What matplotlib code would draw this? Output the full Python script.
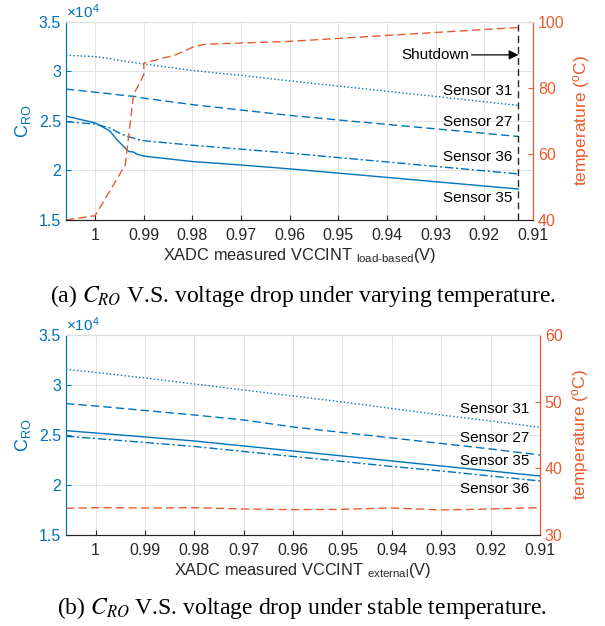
import matplotlib.pyplot as plt
from matplotlib.ticker import FuncFormatter

plt.rcParams['font.family'] = ['Liberation Sans', 'DejaVu Sans']
plt.rcParams['mathtext.fontset'] = 'stix'
plt.rcParams['mathtext.default'] = 'regular'

blue = "#0072BD"
red = "#EC5A2C"
dark = "#262626"

# -----------------------------
# (a) varying temperature
# -----------------------------
x_a = [1.006, 1.0, 0.997, 0.9955, 0.9935, 0.993, 0.992, 0.9915, 0.99,
       0.98, 0.97, 0.96, 0.95, 0.94, 0.93, 0.92, 0.913]
s31_a = [31630, 31500, 31300, 31150, 31000, 30950, 30900, 30850, 30750,
         30100, 29600, 29050, 28520, 28000, 27470, 26940, 26570]
s27_a = [28220, 27900, 27750, 27650, 27550, 27520, 27480, 27450, 27300,
         26650, 26100, 25560, 25100, 24650, 24200, 23750, 23430]
s36_a = [24920, 24680, 24300, 23900, 23450, 23400, 23250, 23150, 23000,
         22550, 22150, 21750, 21300, 20860, 20410, 19960, 19650]
s35_a = [25490, 24800, 24000, 23100, 22100, 21900, 21850, 21650, 21450,
         20900, 20550, 20160, 19730, 19300, 18860, 18430, 18130]

tx_a = [1.006, 1.0, 0.9938, 0.9921, 0.99, 0.99, 0.9835, 0.9797, 0.9776,
        0.97, 0.96, 0.95, 0.94, 0.93, 0.92, 0.913]
temp_a = [40, 41.3, 56.7, 78, 84, 87.5, 90, 92.5, 93.2,
          93.6, 94.1, 95.0, 95.9, 96.8, 97.7, 98.3]
shutdown_v = 0.913

# -----------------------------
# (b) stable temperature
# -----------------------------
x_b = [1.006, 1.0, 0.99, 0.98, 0.97, 0.96, 0.95, 0.94, 0.93, 0.92, 0.91]
s31_b = [31570, 31250, 30700, 30100, 29500, 28900, 28300, 27650, 27000, 26400, 25770]
s27_b = [28130, 27900, 27450, 27000, 26500, 25800, 25250, 24700, 24150, 23600, 23000]
s35_b = [25430, 25200, 24800, 24400, 23900, 23400, 22900, 22400, 21900, 21400, 20900]
s36_b = [24870, 24650, 24250, 23850, 23350, 22850, 22350, 21850, 21400, 20900, 20400]
temp_b = [34.0, 34.1, 34.05, 34.1, 33.9, 33.8, 33.85, 34.05, 33.75, 33.9, 34.1]

xticks = [1, 0.99, 0.98, 0.97, 0.96, 0.95, 0.94, 0.93, 0.92, 0.91]
yticks = [15000, 20000, 25000, 30000, 35000]

fig = plt.figure(figsize=(6.05, 6.26), dpi=100)
ax1 = fig.add_axes([0.109, 0.6486, 0.772, 0.3164])
ax2 = fig.add_axes([0.109, 0.1454, 0.7835, 0.3195])


def style(ax, axr, tlim, tticks, xlab):
    ax.set_xlim(1.006, 0.91)
    ax.set_ylim(15000, 35000)
    ax.set_xticks(xticks)
    ax.set_xticklabels([f"{v:g}" for v in xticks])
    ax.set_yticks(yticks)
    ax.yaxis.set_major_formatter(FuncFormatter(lambda v, p: f"{v / 1e4:g}"))
    ax.grid(True, color="#e3e3e3", linewidth=0.7)
    ax.set_axisbelow(True)
    axr.set_ylim(*tlim)
    axr.set_yticks(tticks)
    ax.tick_params(axis="x", direction="in", length=3.5, colors=dark,
                   labelsize=11.5, pad=6)
    ax.tick_params(axis="y", direction="in", length=3.5, colors=blue,
                   labelsize=11.5)
    axr.tick_params(axis="y", direction="in", length=3.5, colors=red,
                    labelsize=11.5)
    for a in (ax, axr):
        a.spines["top"].set_color("#dddddd")
        a.spines["bottom"].set_color(dark)
        a.spines["left"].set_color(blue)
        a.spines["right"].set_color(red)
    ax.set_ylabel(r"C$_{RO}$", color=blue, fontsize=13)
    ax.yaxis.set_label_coords(-0.07, 0.5)
    axr.set_ylabel(r"temperature ($^{o}$C)", color=red, fontsize=12.5, labelpad=5)
    ax.set_xlabel(xlab, color=dark, fontsize=11.8, labelpad=2)
    ax.text(0.0, 1.005, r"$\times$10$^{4}$", transform=ax.transAxes,
            color=blue, fontsize=11, ha="left", va="bottom")


# plot (a)
ax1r = ax1.twinx()
ax1r.set_zorder(ax1.get_zorder() + 1)
ax1.plot(x_a, s31_a, color=blue, linestyle=":", linewidth=1)
ax1.plot(x_a, s27_a, color=blue, linestyle=(0, (6, 3)), linewidth=1)
ax1.plot(x_a, s36_a, color=blue, linestyle=(0, (6, 2, 1.5, 2)), linewidth=1)
ax1.plot(x_a, s35_a, color=blue, linestyle="-", linewidth=1)
ax1r.plot(tx_a, temp_a, color=red, linestyle=(0, (6, 3)), linewidth=1)
ax1.axvline(shutdown_v, color=dark, linestyle=(0, (5, 3)), linewidth=1)
style(ax1, ax1r, (40, 100), [40, 60, 80, 100],
      r"XADC measured VCCINT $_{load\text{-}based}$(V)")

ax1.annotate("Shutdown", xy=(shutdown_v, 31670), xytext=(0.9232, 31670),
             ha="right", va="center", fontsize=11, color="black",
             arrowprops=dict(arrowstyle="-|>", color="black", lw=0.9,
                             mutation_scale=14, shrinkA=0, shrinkB=0))
for lab, yv in [("Sensor 31", 28060), ("Sensor 27", 24900),
                ("Sensor 36", 21330), ("Sensor 35", 17220)]:
    ax1.text(0.9143, yv, lab, ha="right", va="center", fontsize=11,
             color="black")

# plot (b)
ax2r = ax2.twinx()
ax2r.set_zorder(ax2.get_zorder() + 1)
ax2.plot(x_b, s31_b, color=blue, linestyle=":", linewidth=1)
ax2.plot(x_b, s27_b, color=blue, linestyle=(0, (6, 3)), linewidth=1)
ax2.plot(x_b, s35_b, color=blue, linestyle="-", linewidth=1)
ax2.plot(x_b, s36_b, color=blue, linestyle=(0, (6, 2, 1.5, 2)), linewidth=1)
ax2r.plot(x_b, temp_b, color=red, linestyle=(0, (6, 3)), linewidth=1)
style(ax2, ax2r, (30, 60), [30, 40, 50, 60],
      r"XADC measured VCCINT $_{external}$(V)")
for lab, yv in [("Sensor 31", 27570), ("Sensor 27", 24700),
                ("Sensor 35", 22430), ("Sensor 36", 19600)]:
    ax2.text(0.9122, yv, lab, ha="right", va="center", fontsize=11,
             color="black")

# captions
fig.text(0.5, 0.527, r"(a) $\mathit{C}_{\mathit{RO}}$ V.S. voltage drop under varying temperature.",
         ha="center", va="center", fontsize=17, family=["Liberation Serif"])
fig.text(0.5, 0.029, r"(b) $\mathit{C}_{\mathit{RO}}$ V.S. voltage drop under stable temperature.",
         ha="center", va="center", fontsize=17, family=["Liberation Serif"])

fig.savefig("out.png", dpi=100, facecolor="white")
